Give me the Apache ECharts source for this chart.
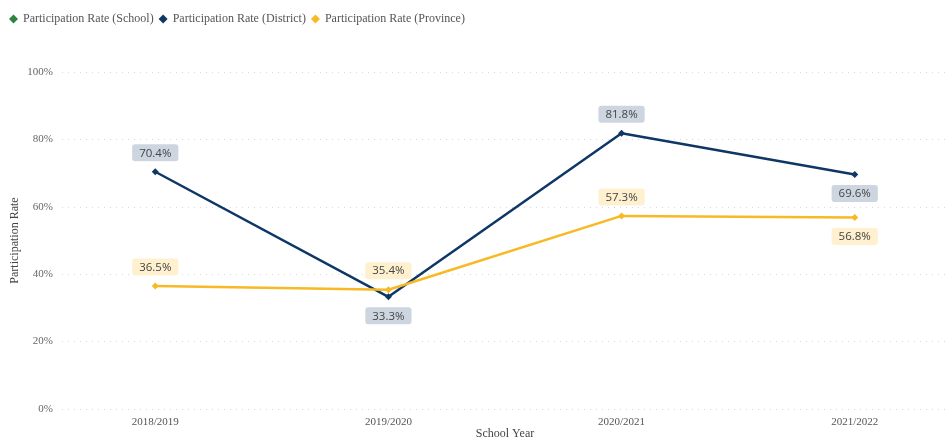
<!DOCTYPE html>
<html>
<head>
<meta charset="utf-8">
<title>Participation Rate</title>
<script src="https://cdn.jsdelivr.net/npm/echarts@6/dist/echarts.min.js"></script>
<style>
    html, body { margin: 0; padding: 0; background: #fff; }
    #chart { width: 948px; height: 446px; }
</style>
</head>
<body>
<div id="chart"></div>
<script>
    var years = ['2018/2019', '2019/2020', '2020/2021', '2021/2022'];
    var schoolRate = [];
    var districtRate = [70.4, 33.3, 81.8, 69.6];
    var provinceRate = [36.5, 35.4, 57.3, 56.8];
    // label above (true) or below (false) the point
    var districtAbove = [true, false, true, false];
    var provinceAbove = [true, true, true, false];

    var serif = "'Liberation Serif', 'DejaVu Serif', serif";
    var sans = "'Open Sans', 'Noto Sans', sans-serif";

    function pts(vals, above, bg) {
        return vals.map(function (v, i) {
            return {
                value: [i, v],
                label: {
                    position: above[i] ? 'top' : 'bottom',
                    distance: 7,
                    backgroundColor: bg
                }
            };
        });
    }

    var labelBase = {
        show: true,
        formatter: function (p) { return p.value[1].toFixed(1) + '%'; },
        fontFamily: sans,
        fontSize: 11.5,
        color: '#444',
        padding: [3, 7, 2, 7],
        borderRadius: 3
    };

    var chart = echarts.init(document.getElementById('chart'));
    chart.setOption({
        animation: false,
        legend: {
            left: 4,
            top: 8,
            itemGap: 5,
            itemWidth: 9,
            itemHeight: 9,
            textStyle: { fontFamily: serif, fontSize: 12, color: '#555' },
            data: [
                { name: 'Participation Rate (School)', icon: 'diamond' },
                { name: 'Participation Rate (District)', icon: 'diamond' },
                { name: 'Participation Rate (Province)', icon: 'diamond' }
            ]
        },
        grid: { left: 62, right: 0, top: 72, bottom: 37, outerBoundsMode: 'none', containLabel: false },
        xAxis: {
            type: 'value',
            min: -0.4,
            max: 3.4,
            name: 'School Year',
            nameLocation: 'middle',
            nameGap: 19,
            nameMoveOverlap: false,
            nameTextStyle: { fontFamily: serif, fontSize: 12, color: '#444' },
            axisLine: { show: false },
            axisTick: { show: false },
            splitLine: { show: false },
            axisLabel: {
                customValues: [0, 1, 2, 3],
                formatter: function (v) { return years[Math.round(v)]; },
                fontFamily: serif,
                fontSize: 11,
                color: '#555',
                margin: 8
            }
        },
        yAxis: {
            type: 'value',
            min: 0,
            max: 100,
            interval: 20,
            name: 'Participation Rate',
            nameLocation: 'middle',
            nameGap: 41,
            nameMoveOverlap: false,
            nameTextStyle: { fontFamily: serif, fontSize: 12, color: '#444' },
            axisLabel: {
                formatter: '{value}%',
                fontFamily: serif,
                fontSize: 11,
                color: '#666',
                margin: 9
            },
            axisLine: { show: false },
            axisTick: { show: false },
            splitLine: { lineStyle: { color: '#d8d8d8', type: [1, 5], width: 1 } }
        },
        series: [
            {
                name: 'Participation Rate (School)',
                type: 'line',
                data: schoolRate,
                itemStyle: { color: '#2E8540' }
            },
            {
                name: 'Participation Rate (District)',
                type: 'line',
                data: pts(districtRate, districtAbove, '#CDD6E0'),
                symbol: 'diamond',
                symbolSize: 7,
                lineStyle: { width: 2.5, color: '#0E3766' },
                itemStyle: { color: '#0E3766' },
                label: labelBase,
                z: 3
            },
            {
                name: 'Participation Rate (Province)',
                type: 'line',
                data: pts(provinceRate, provinceAbove, '#FFF0CF'),
                symbol: 'diamond',
                symbolSize: 7,
                lineStyle: { width: 2.5, color: '#F7B924' },
                itemStyle: { color: '#F7B924' },
                label: labelBase,
                z: 4
            }
        ]
    });
</script>
</body>
</html>
